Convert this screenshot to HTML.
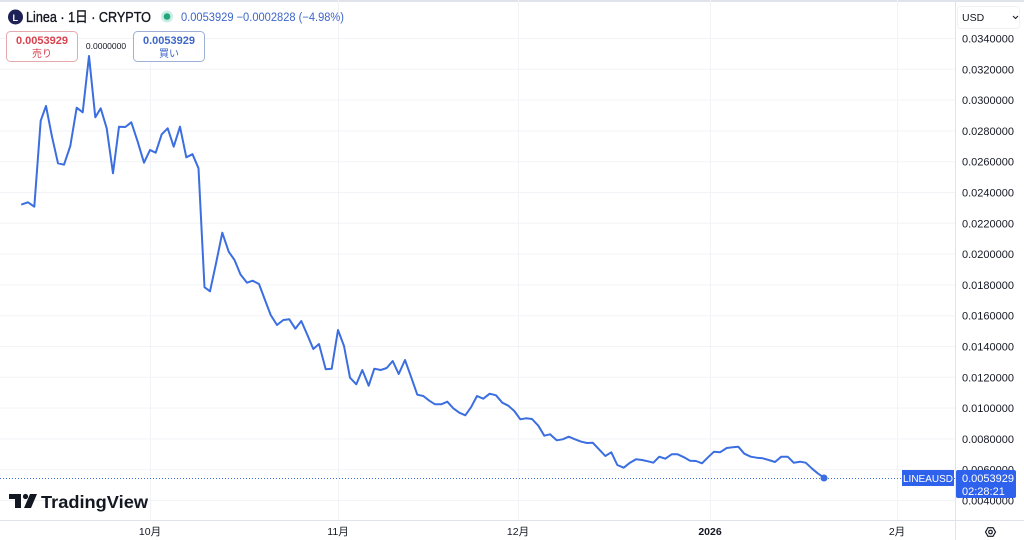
<!DOCTYPE html>
<html><head><meta charset="utf-8">
<style>
html,body{margin:0;padding:0;background:#fff;}
svg{display:block;}
text{font-family:"Liberation Sans","Noto Sans CJK JP",sans-serif;}
</style></head>
<body>
<svg width="1024" height="540" viewBox="0 0 1024 540" xmlns="http://www.w3.org/2000/svg">
<rect x="0" y="0" width="1024" height="540" fill="#ffffff"/>
<rect x="0" y="0" width="1024" height="2" fill="#e0e3eb"/>
<!-- horizontal grid -->
<g stroke="#f2f3f6" stroke-width="1">
<line x1="0" x2="955" y1="38.5" y2="38.5"/>
<line x1="0" x2="955" y1="69.3" y2="69.3"/>
<line x1="0" x2="955" y1="100.1" y2="100.1"/>
<line x1="0" x2="955" y1="130.9" y2="130.9"/>
<line x1="0" x2="955" y1="161.7" y2="161.7"/>
<line x1="0" x2="955" y1="192.5" y2="192.5"/>
<line x1="0" x2="955" y1="223.3" y2="223.3"/>
<line x1="0" x2="955" y1="254.1" y2="254.1"/>
<line x1="0" x2="955" y1="284.9" y2="284.9"/>
<line x1="0" x2="955" y1="315.7" y2="315.7"/>
<line x1="0" x2="955" y1="346.5" y2="346.5"/>
<line x1="0" x2="955" y1="377.3" y2="377.3"/>
<line x1="0" x2="955" y1="408.1" y2="408.1"/>
<line x1="0" x2="955" y1="438.9" y2="438.9"/>
<line x1="0" x2="955" y1="469.7" y2="469.7"/>
<line x1="0" x2="955" y1="500.5" y2="500.5"/>
</g>
<!-- vertical grid -->
<g stroke="#f2f3f6" stroke-width="1">
<line x1="150.5" x2="150.5" y1="30" y2="520"/>
<line x1="338.5" x2="338.5" y1="0" y2="520"/>
<line x1="518.5" x2="518.5" y1="0" y2="520"/>
<line x1="710.5" x2="710.5" y1="0" y2="520"/>
<line x1="897.5" x2="897.5" y1="0" y2="520"/>
</g>
<!-- current price dotted line -->
<line x1="0" x2="955" y1="478.5" y2="478.5" stroke="#3c6fe0" stroke-width="1" stroke-dasharray="1,2"/>
<!-- series -->
<polyline fill="none" stroke="#3b6ee0" stroke-width="2" stroke-linejoin="round" stroke-linecap="round" points="
22,204.3 28,202.3 34.3,206.7 40.7,120.7 46,106 52,136.7 58,163.3 64,164.7 70.3,146 76.7,107.7 82.7,112.3 89,56 95.3,117.3 100.7,108.3 106.7,128.3 113,173.3 119,126.7 125.3,127 131.3,122.3 137.7,141.7 144,162.7 150,150 155.7,152.7 161.7,134.3 167.7,128.3 173.7,146.7 180,126.7 186.3,157.3 192.5,154.2 198.5,168.3 204.5,287.2 210,291.3 216.2,262.5 222.3,232.7 228.7,251.7 234.5,260 240.5,274.5 247,282.7 252.7,280.7 259,284 265,300 270.7,315 277,325 283.3,320 289.3,319.3 295.3,328.7 301.3,321 307.7,335.7 313.3,349 319,344 325.7,369.3 331.7,368.7 338,330 344,346 350,377.7 356.3,384.3 362.3,370 368.7,385.7 374.3,368.7 380.7,370 386.7,368 392.7,361 398.7,374 405,360 411,376.7 417.3,394.7 423.3,396 429.3,400.7 435,404.3 441.3,404.3 447.3,401.7 453.3,408.3 459.3,412.7 465.3,415.3 471,407.3 477,396 483.3,398.7 489.7,393.7 496,395.3 502.3,402.7 508.3,405.7 514.3,411 520.3,419.3 526,418.3 532,419 538.3,425.7 544.3,435.7 550,434.3 556.7,440.3 562.7,439.3 568.7,436.7 575,439.3 581.3,441.7 587,443 592.7,442.7 599,449.3 605.3,456 611.3,452.3 617.3,465 623.7,467.7 630,462.7 636,459.3 642,460 648,461.3 653.3,462.7 659.3,456.7 665.3,458.7 671.7,454.3 677.7,454.3 684,457.3 690,460.7 696,461 702,463.3 708,457.3 714,451.7 720,452.3 726.7,448 732.7,447.3 738.3,446.7 744.3,453.7 750.7,456.7 756.7,457.7 762.7,458.3 768.7,460 775,462 781.3,456.7 787.7,456.7 793.7,462.7 800,461.7 805.7,462.7 811.7,468.3 817.7,473.3 824,477.7"/>
<circle cx="824" cy="478" r="3.5" fill="#3b6ee0"/>

<!-- header -->
<circle cx="15.5" cy="17" r="7.5" fill="#1e2157"/>
<text x="12.5" y="21" font-size="9" font-weight="bold" fill="#ffffff">L</text>
<text x="26" y="22" font-size="14.5" fill="#131722" stroke="#131722" stroke-width="0.35" textLength="125" lengthAdjust="spacingAndGlyphs">Linea · 1日 · CRYPTO</text>
<circle cx="167" cy="16.5" r="6" fill="#c9ede3"/>
<circle cx="167" cy="16.5" r="3.3" fill="#22a67a"/>
<text x="181" y="21" font-size="11.5" fill="#3d66c9" textLength="163" lengthAdjust="spacingAndGlyphs">0.0053929  −0.0002828 (−4.98%)</text>

<!-- sell / buy boxes -->
<rect x="6.5" y="31.5" width="71" height="30" rx="4" fill="#ffffff" stroke="#e6a9ae"/>
<text x="42" y="44" font-size="11" font-weight="bold" fill="#d8424e" text-anchor="middle">0.0053929</text>
<text x="42" y="57" font-size="10" fill="#d8424e" text-anchor="middle">売り</text>
<text x="106" y="49" font-size="8.5" fill="#131722" text-anchor="middle">0.0000000</text>
<rect x="133.5" y="31.5" width="71" height="30" rx="4" fill="#ffffff" stroke="#9fb0d8"/>
<text x="169" y="44" font-size="11" font-weight="bold" fill="#3d66c9" text-anchor="middle">0.0053929</text>
<text x="169" y="57" font-size="10" fill="#3d66c9" text-anchor="middle">買い</text>

<!-- axis separators -->
<line x1="955.5" x2="955.5" y1="0" y2="540" stroke="#e0e3eb"/>
<line x1="0" x2="1024" y1="520.5" y2="520.5" stroke="#e0e3eb"/>

<!-- price axis -->
<rect x="957.5" y="6.5" width="62" height="22" rx="3" fill="#ffffff" stroke="#f0f1f4"/>
<text x="962" y="21" font-size="10.5" fill="#131722">USD</text>
<path d="M1013,16 L1015.5,18.5 L1018,16" fill="none" stroke="#131722" stroke-width="1"/>
<g font-size="11" fill="#131722">
<text x="962" y="42.5">0.0340000</text>
<text x="962" y="73.3">0.0320000</text>
<text x="962" y="104.1">0.0300000</text>
<text x="962" y="134.9">0.0280000</text>
<text x="962" y="165.7">0.0260000</text>
<text x="962" y="196.5">0.0240000</text>
<text x="962" y="227.3">0.0220000</text>
<text x="962" y="258.1">0.0200000</text>
<text x="962" y="288.9">0.0180000</text>
<text x="962" y="319.7">0.0160000</text>
<text x="962" y="350.5">0.0140000</text>
<text x="962" y="381.3">0.0120000</text>
<text x="962" y="412.1">0.0100000</text>
<text x="962" y="442.9">0.0080000</text>
<text x="962" y="473.7">0.0060000</text>
<text x="962" y="504.5">0.0040000</text>
</g>
<!-- current price labels -->
<rect x="902" y="470" width="52" height="16" fill="#2f62ec"/>
<text x="928" y="482" font-size="10" fill="#ffffff" text-anchor="middle">LINEAUSD</text>
<rect x="956" y="470" width="60" height="28" rx="2" fill="#2f62ec"/>
<text x="962" y="482" font-size="11" fill="#ffffff">0.0053929</text>
<text x="962" y="495" font-size="11" fill="#ffffff">02:28:21</text>

<!-- time axis -->
<g font-size="10.5" fill="#131722" text-anchor="middle">
<text x="150" y="535">10月</text>
<text x="338" y="535">11月</text>
<text x="518" y="535">12月</text>
<text x="710" y="535" font-weight="bold">2026</text>
<text x="897" y="535">2月</text>
</g>
<!-- settings icon -->
<path d="M985.5,532 L988,527.7 L993,527.7 L995.5,532 L993,536.3 L988,536.3 Z" fill="none" stroke="#131722" stroke-width="1.2"/>
<circle cx="990.5" cy="532" r="1.8" fill="none" stroke="#131722" stroke-width="1.2"/>

<!-- TradingView logo -->
<g fill="#131722">
<path d="M9,494 L21,494 L21,508 L15,508 L15,499 L9,499 Z"/>
<circle cx="25.5" cy="496.5" r="2.6"/>
<path d="M30,494 L37,494 L31,508 L24,508 Z"/>
</g>
<text x="41" y="508" font-size="17.5" font-weight="bold" fill="#131722" textLength="107" lengthAdjust="spacingAndGlyphs">TradingView</text>
</svg>
</body></html>
